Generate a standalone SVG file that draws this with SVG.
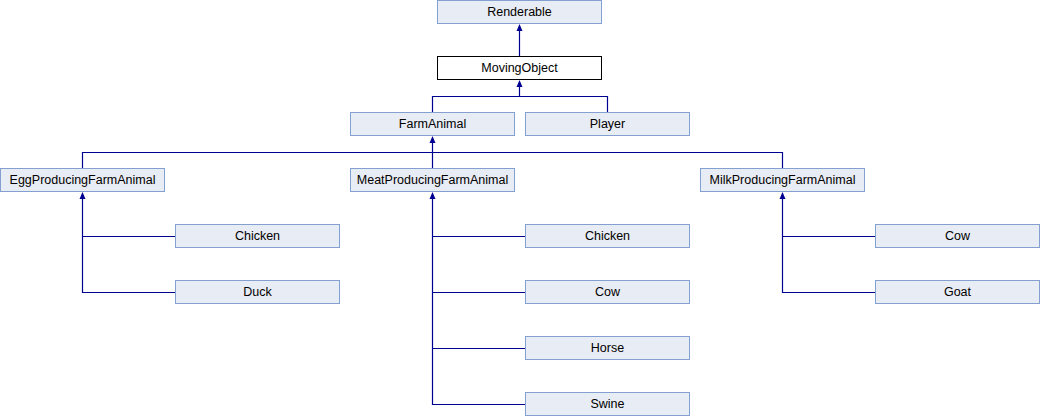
<svg xmlns="http://www.w3.org/2000/svg" width="1040" height="416" viewBox="0 0 1040 416">
<style>
.n rect{fill:#e8ecf4;stroke:#84a0d0;stroke-width:1}
.n.cur rect{fill:#ffffff;stroke:#000000}
.n text{font-family:"Liberation Sans",Arial,sans-serif;font-size:12.5px;fill:#000000;text-anchor:middle}
#edges path{fill:none;stroke:#000090;stroke-width:1.2}
#edges polygon{fill:#000090;stroke:none}
</style>
<rect width="1040" height="416" fill="#ffffff"/>
<g id="edges">
<path d="M519.5,56 V28"/><polygon points="519.5,24 516.5,31 522.5,31"/>
<path d="M432.5,112 V96.5 H607.5 V112 M519.5,96.5 V84"/><polygon points="519.5,80 516.5,87 522.5,87"/>
<path d="M82.5,168 V152.5 H782.5 V168 M432.5,152.5 V168 M432.5,152.5 V140"/><polygon points="432.5,136 429.5,143 435.5,143"/>
<path d="M82.5,196 V292.5 H175 M82.5,236.5 H175"/><polygon points="82.5,192 79.5,199 85.5,199"/>
<path d="M432.5,196 V404.5 H525 M432.5,236.5 H525 M432.5,292.5 H525 M432.5,348.5 H525"/><polygon points="432.5,192 429.5,199 435.5,199"/>
<path d="M782.5,196 V292.5 H875 M782.5,236.5 H875"/><polygon points="782.5,192 779.5,199 785.5,199"/>
</g>
<g id="Renderable" class="n"><rect x="437.5" y="0.5" width="164" height="23"/><text x="519.5" y="15.5">Renderable</text></g>
<g id="MovingObject" class="n cur"><rect x="437.5" y="56.5" width="164" height="23"/><text x="519.5" y="71.5">MovingObject</text></g>
<g id="FarmAnimal" class="n"><rect x="350.5" y="112.5" width="164" height="23"/><text x="432.5" y="127.5">FarmAnimal</text></g>
<g id="Player" class="n"><rect x="525.5" y="112.5" width="164" height="23"/><text x="607.5" y="127.5">Player</text></g>
<g id="EggProducingFarmAnimal" class="n"><rect x="0.5" y="168.5" width="164" height="23"/><text x="82.5" y="183.5">EggProducingFarmAnimal</text></g>
<g id="MeatProducingFarmAnimal" class="n"><rect x="350.5" y="168.5" width="164" height="23"/><text x="432.5" y="183.5">MeatProducingFarmAnimal</text></g>
<g id="MilkProducingFarmAnimal" class="n"><rect x="700.5" y="168.5" width="164" height="23"/><text x="782.5" y="183.5">MilkProducingFarmAnimal</text></g>
<g id="EggChicken" class="n"><rect x="175.5" y="224.5" width="164" height="23"/><text x="257.5" y="239.5">Chicken</text></g>
<g id="Duck" class="n"><rect x="175.5" y="280.5" width="164" height="23"/><text x="257.5" y="295.5">Duck</text></g>
<g id="MeatChicken" class="n"><rect x="525.5" y="224.5" width="164" height="23"/><text x="607.5" y="239.5">Chicken</text></g>
<g id="MeatCow" class="n"><rect x="525.5" y="280.5" width="164" height="23"/><text x="607.5" y="295.5">Cow</text></g>
<g id="Horse" class="n"><rect x="525.5" y="336.5" width="164" height="23"/><text x="607.5" y="351.5">Horse</text></g>
<g id="Swine" class="n"><rect x="525.5" y="392.5" width="164" height="23"/><text x="607.5" y="407.5">Swine</text></g>
<g id="MilkCow" class="n"><rect x="875.5" y="224.5" width="164" height="23"/><text x="957.5" y="239.5">Cow</text></g>
<g id="Goat" class="n"><rect x="875.5" y="280.5" width="164" height="23"/><text x="957.5" y="295.5">Goat</text></g>
</svg>
